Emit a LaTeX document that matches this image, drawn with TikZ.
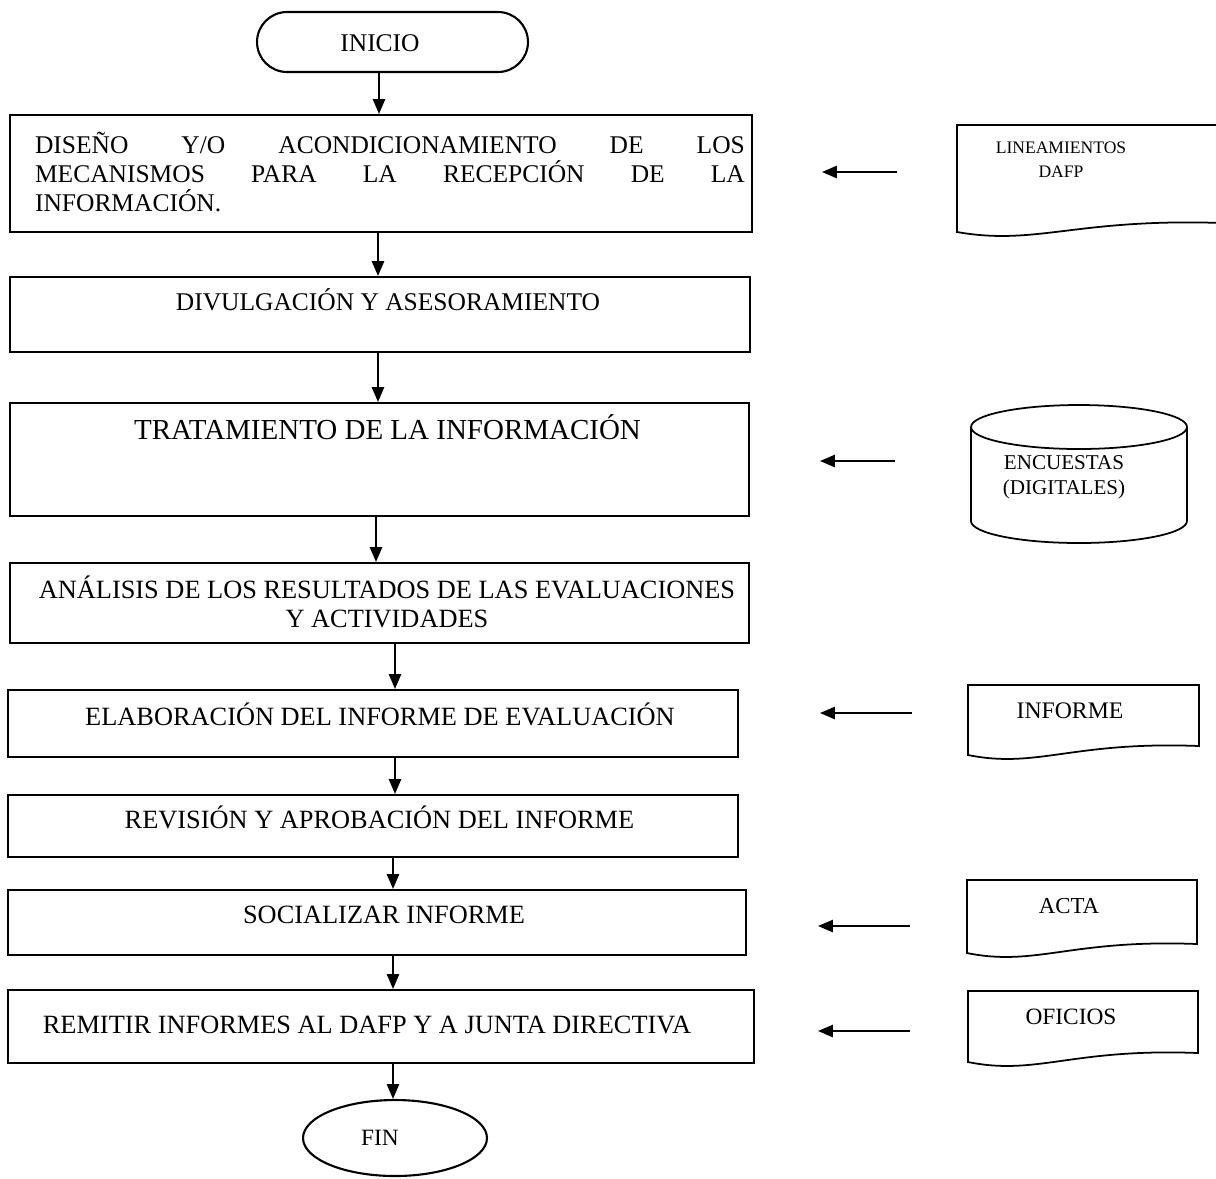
\documentclass[tikz,border=0pt]{standalone}
\usepackage{fontspec}
\setmainfont{Liberation Serif}
\usepackage{tikz}
\usetikzlibrary{arrows.meta,shapes.geometric}

% document symbol: left, top, right, bottom-left
\newcommand{\docshape}[4]{%
  \draw[docline] (#1,#2) -- (#3,#2) -- (#3,{#4-9})
    .. controls ({#1+0.45*(#3-#1)},{#4-14}) and ({#1+0.3*(#3-#1)},{#4+14}) .. (#1,#4) -- cycle;}

\begin{document}
\begin{tikzpicture}[x=0.02cm,y=-0.02cm,
  flow/.style={line width=1pt,-{Triangle[length=8.5pt,width=7pt]}},
  stepbox/.style={draw,line width=1.2pt,rectangle,inner sep=0pt},
  steptext/.style={inner sep=0pt,text height=10pt,text depth=0pt,font=\fontsize{15}{18}\selectfont},
  docline/.style={line width=1pt},
  doctext/.style={inner sep=0pt,align=center}]
\clip (0,0) rectangle (1216,1178);
\fill[white] (0,0) rectangle (1216,1178);

% main column
\node[stepbox,rounded corners=0.6cm,minimum width=5.42cm,minimum height=1.2cm] (inicio) at (392.5,42) {};
\node[steptext,font=\fontsize{14.5}{17}\selectfont] (tinicio) at (380,43) {INICIO};

\node[stepbox,minimum width=14.84cm,minimum height=2.34cm] (b1) at (381,173.5) {};
\node[inner sep=0pt,text width=14.2cm,align=justify,font=\fontsize{14.5}{16.4}\selectfont] (t1) at (390,172)
  {DISEÑO Y/O ACONDICIONAMIENTO DE LOS\linebreak MECANISMOS PARA LA RECEPCIÓN DE LA\linebreak INFORMACIÓN.};

\node[stepbox,minimum width=14.8cm,minimum height=1.5cm] (b2) at (380,314.5) {};
\node[steptext,text height=9.6pt,font=\fontsize{14.5}{17}\selectfont] (t2) at (388,302) {DIVULGACIÓN Y ASESORAMIENTO};

\node[stepbox,minimum width=14.78cm,minimum height=2.26cm] (b3) at (379.5,459.5) {};
\node[steptext,text height=11pt,font=\fontsize{16.5}{19}\selectfont] (t3) at (387.5,430) {TRATAMIENTO DE LA INFORMACIÓN};

\node[stepbox,minimum width=14.78cm,minimum height=1.6cm] (b4) at (379.5,603) {};
\node[inner sep=0pt,align=center,font=\fontsize{15}{16.4}\selectfont] (t4) at (387,601.5)
  {ANÁLISIS DE LOS RESULTADOS DE LAS EVALUACIONES\\Y ACTIVIDADES};

\node[stepbox,minimum width=14.6cm,minimum height=1.34cm] (b5) at (373,723.5) {};
\node[steptext] (t5) at (380,717) {ELABORACIÓN DEL INFORME DE EVALUACIÓN};

\node[stepbox,minimum width=14.6cm,minimum height=1.24cm] (b6) at (373,826) {};
\node[steptext] (t6) at (379.5,820) {REVISIÓN Y APROBACIÓN DEL INFORME};

\node[stepbox,minimum width=14.76cm,minimum height=1.3cm] (b7) at (377,922.5) {};
\node[steptext] (t7) at (384,915) {SOCIALIZAR INFORME};

\node[stepbox,minimum width=14.92cm,minimum height=1.46cm] (b8) at (381,1026.5) {};
\node[steptext] (t8) at (367,1025) {REMITIR INFORMES AL DAFP Y A JUNTA DIRECTIVA};

\node[stepbox,ellipse,minimum width=3.68cm,minimum height=1.52cm] (fin) at (395,1138) {};
\node[steptext,text height=8.8pt,font=\fontsize{13.3}{16}\selectfont] (tfin) at (380,1138) {FIN};

\foreach \a/\b/\xx in {inicio/b1/379, b1/b2/378, b2/b3/378, b3/b4/376, b4/b5/395,
                       b5/b6/395, b6/b7/393, b7/b8/393, b8/fin/393}
  \draw[flow] (\a.south -| \xx,0) -- (\b.north -| \xx,0);

% documents on the right
\docshape{957}{125}{1222}{232}
\node[doctext,font=\fontsize{10}{13.6}\selectfont] (lineam) at (1061,160) {LINEAMIENTOS\\DAFP};

\draw[docline] (971,427) -- (971,521) arc[start angle=180,end angle=360,x radius=2.16cm,y radius=0.44cm] -- (1187,427);
\draw[docline] (1079,427) ellipse[x radius=2.16cm,y radius=0.44cm];
\node[doctext,font=\fontsize{12}{14.2}\selectfont] (encuestas) at (1064,477) {ENCUESTAS\\(DIGITALES)};

\docshape{968}{685}{1199}{755}
\node[doctext,text height=9pt,text depth=0pt,font=\fontsize{13.5}{16}\selectfont] (informe) at (1070,711) {INFORME};

\docshape{967}{880}{1197}{953}
\node[doctext,text height=8.7pt,text depth=0pt,font=\fontsize{13}{16}\selectfont] (acta) at (1069,906) {ACTA};

\docshape{968}{991}{1198}{1062}
\node[doctext,text height=8.8pt,text depth=0pt,font=\fontsize{13.3}{16}\selectfont] (oficios) at (1071,1017) {OFICIOS};

\foreach \n/\xa/\xb/\yy in {1/897/822/172, 2/895/820/461, 3/912/820/713, 4/910/818/926, 5/910/818/1031} {
  \coordinate (src\n) at (\xa,\yy);
  \coordinate (dst\n) at (\xb,\yy);
  \draw[flow] (src\n) -- (dst\n);
}
\end{tikzpicture}
\end{document}
